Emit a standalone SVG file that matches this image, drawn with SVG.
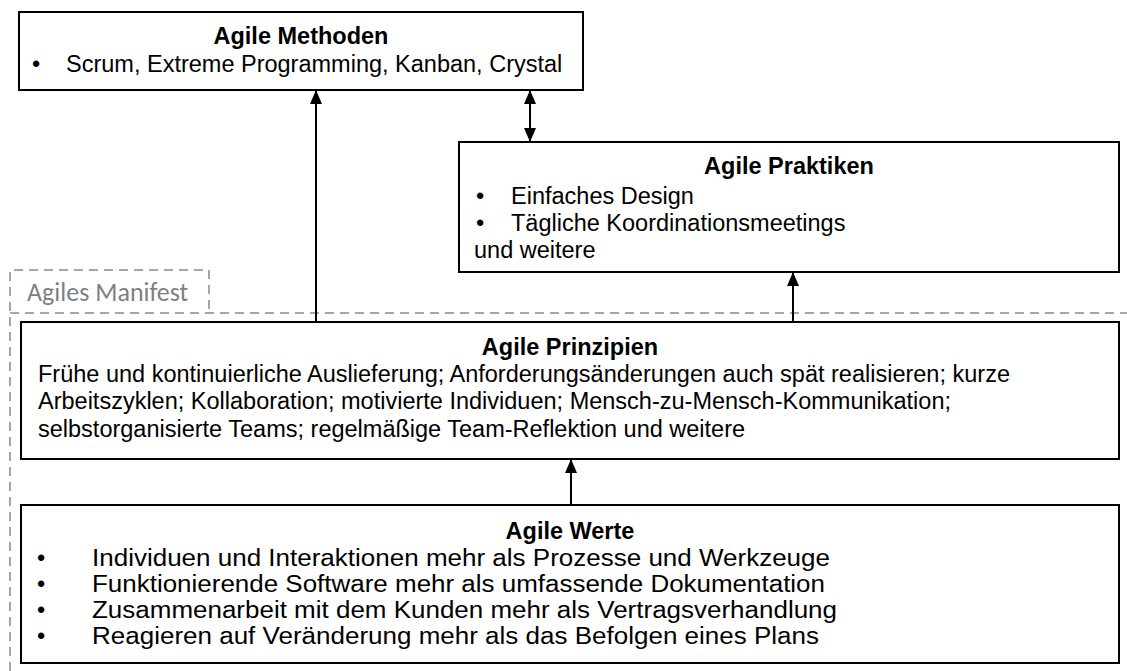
<svg xmlns="http://www.w3.org/2000/svg" width="1127" height="671" viewBox="0 0 1127 671">
<defs>
<marker id="ah" markerUnits="userSpaceOnUse" markerWidth="14" markerHeight="14" viewBox="0 0 14 14" refX="14" refY="7" orient="auto-start-reverse">
<path d="M0,1 L14,7 L0,13 Z" fill="#000"/>
</marker>
<style>
.box{fill:#fff;stroke:#000;stroke-width:2}
.t{font-family:"Liberation Sans",Arial,sans-serif;font-size:23.5px;fill:#000}
.b{font-weight:bold}
.w{font-size:23px}
.dash{fill:none;stroke:#a6a6a6;stroke-width:2;stroke-dasharray:9,6}
.con{stroke:#000;stroke-width:2;fill:none}
</style>
</defs>
<g id="manifest">
<path class="dash" d="M10,671 L10,270 L209,270 L209,313"/>
<path class="dash" d="M10,313 L1127,313"/>
<text x="27" y="301" font-family="Carlito,'Open Sans',sans-serif" font-size="26" fill="#7f7f7f">Agiles Manifest</text>
</g>
<g id="connectors">
<line class="con" x1="316" y1="322" x2="316" y2="90" marker-end="url(#ah)"/>
<line class="con" x1="530" y1="90" x2="530" y2="142" marker-start="url(#ah)" marker-end="url(#ah)"/>
<line class="con" x1="793" y1="322" x2="793" y2="272" marker-end="url(#ah)"/>
<line class="con" x1="571" y1="505" x2="571" y2="459" marker-end="url(#ah)"/>
</g>
<g id="methoden">
<rect class="box" x="19" y="12" width="564" height="78"/>
<text class="t b" x="301" y="44" text-anchor="middle">Agile Methoden</text>
<text class="t" x="32" y="72">•</text>
<text class="t" x="66" y="72">Scrum, Extreme Programming, Kanban, Crystal</text>
</g>
<g id="praktiken">
<rect class="box" x="459" y="142" width="660" height="130"/>
<text class="t b" x="789" y="174" text-anchor="middle">Agile Praktiken</text>
<text class="t" x="476" y="204">•</text>
<text class="t" x="511" y="204">Einfaches Design</text>
<text class="t" x="476" y="231">•</text>
<text class="t" x="511" y="231">Tägliche Koordinationsmeetings</text>
<text class="t" x="474" y="258">und weitere</text>
</g>
<g id="prinzipien">
<rect class="box" x="21" y="322" width="1098" height="137"/>
<text class="t b" x="570" y="355" text-anchor="middle">Agile Prinzipien</text>
<text class="t" x="38" y="382">Frühe und kontinuierliche Auslieferung; Anforderungsänderungen auch spät realisieren; kurze</text>
<text class="t" x="38" y="409">Arbeitszyklen; Kollaboration; motivierte Individuen; Mensch-zu-Mensch-Kommunikation;</text>
<text class="t" x="38" y="437">selbstorganisierte Teams; regelmäßige Team-Reflektion und weitere</text>
</g>
<g id="werte">
<rect class="box" x="21" y="505" width="1098" height="158"/>
<text class="t b" x="570" y="539" text-anchor="middle">Agile Werte</text>
<text class="t" x="37" y="566">•</text>
<text class="t w" x="92" y="566" textLength="738" lengthAdjust="spacingAndGlyphs">Individuen und Interaktionen mehr als Prozesse und Werkzeuge</text>
<text class="t" x="37" y="592">•</text>
<text class="t w" x="92" y="592" textLength="733" lengthAdjust="spacingAndGlyphs">Funktionierende Software mehr als umfassende Dokumentation</text>
<text class="t" x="37" y="618">•</text>
<text class="t w" x="92" y="618" textLength="745" lengthAdjust="spacingAndGlyphs">Zusammenarbeit mit dem Kunden mehr als Vertragsverhandlung</text>
<text class="t" x="37" y="644">•</text>
<text class="t w" x="92" y="644" textLength="727" lengthAdjust="spacingAndGlyphs">Reagieren auf Veränderung mehr als das Befolgen eines Plans</text>
</g>
</svg>
